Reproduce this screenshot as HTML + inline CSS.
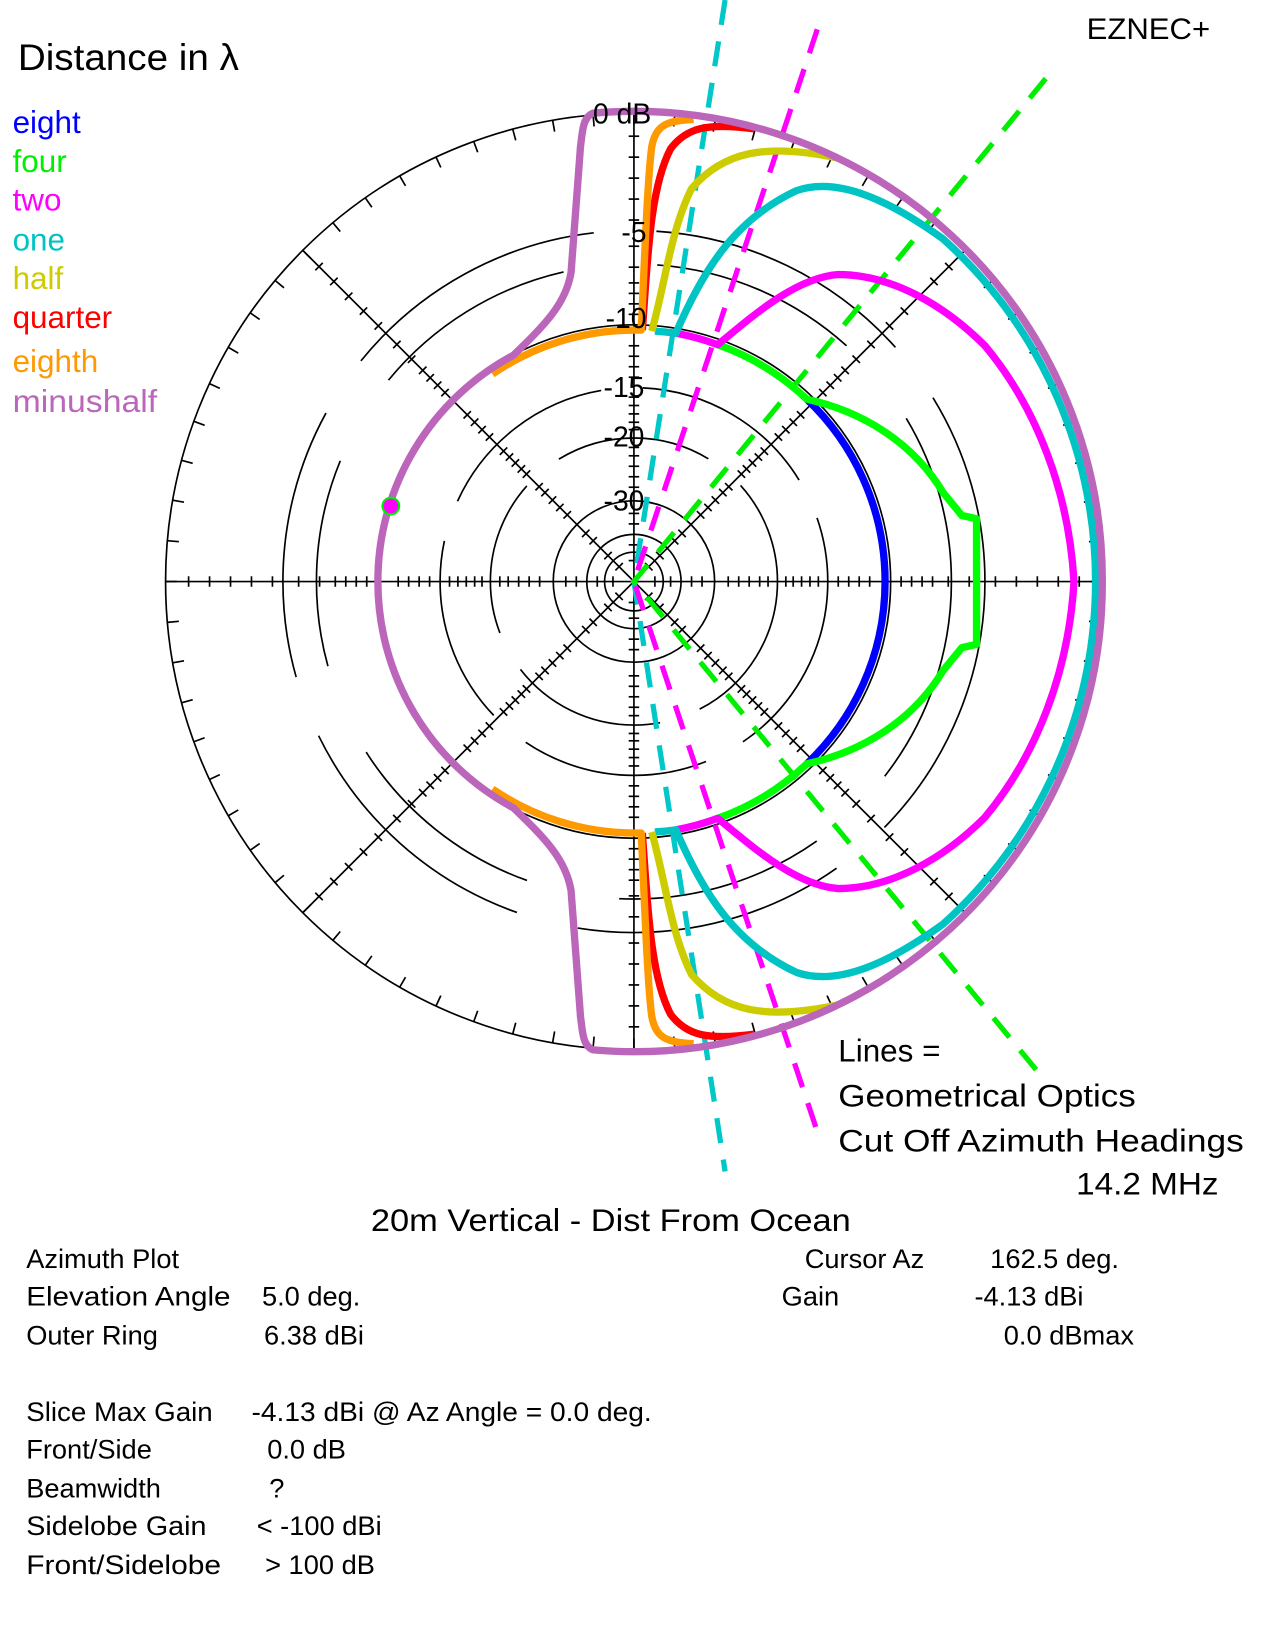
<!DOCTYPE html>
<html><head><meta charset="utf-8">
<style>
html,body{margin:0;padding:0;background:#fff;}
svg{display:block;}
text{font-family:"Liberation Sans","DejaVu Sans",sans-serif;}
</style></head>
<body>
<svg id="s" width="1271" height="1644" viewBox="0 0 1213 1569" xmlns="http://www.w3.org/2000/svg">
<g id="grid" fill="none" stroke="#000" stroke-width="1.6">
  <circle cx="605" cy="555" r="447"/>
  <circle cx="605" cy="555" r="335" stroke-dasharray="260 60"/>
  <circle cx="605" cy="555" r="303" stroke-dasharray="200 90"/>
  <circle cx="605" cy="555" r="245"/>
  <circle cx="605" cy="555" r="185" stroke-dasharray="180 40"/>
  <circle cx="605" cy="555" r="137" stroke-dasharray="150 40"/>
  <circle cx="605" cy="555" r="77"/>
  <circle cx="605" cy="555" r="45"/>
  <circle cx="605" cy="555" r="28"/>
  <line x1="158" y1="555" x2="1052" y2="555"/>
  <line x1="605" y1="108" x2="605" y2="1002"/>
  <line x1="289" y1="239" x2="921" y2="871"/>
  <line x1="289" y1="871" x2="921" y2="239"/>
</g>
<g id="ticks" stroke="#000" stroke-width="1.6"></g>

<g fill="none" stroke-width="5" stroke-dasharray="24 16">
  <path d="M692 0 L605 555 L692 1118" stroke="#00c8c8"/>
  <path d="M780 28 L605 555 L780 1080" stroke="#ff00ff"/>
  <path d="M998 75 L605 555 L998 1032" stroke="#00ee00"/>
</g>

<g fill="none" stroke-width="7" stroke-linejoin="round">
  <path d="M770 381 A240 240 0 0 1 770 729" stroke="#0000ff"/>
  <path d="M685 329 A240 240 0 0 1 770 381 C820 392 870 420 900 470 L918 492 L932 495 L932 615 L918 618 L900 640 C870 690 820 718 770 729 A240 240 0 0 1 685 781" stroke="#00ff00"/>
  <path d="M645 318 A240 240 0 0 1 685 329 C720 300 760 265 800 262 C850 262 900 290 940 330 C990 390 1020 470 1025 555 C1020 640 990 720 940 780 C900 820 850 848 800 848 C760 845 720 810 685 781 A240 240 0 0 1 645 792" stroke="#ff00ff"/>
  <path d="M625 316 A240 240 0 0 1 645 318 C670 260 700 210 760 182 C800 168 850 192 900 228 A440 440 0 0 1 900 882 C850 918 800 942 760 928 C700 900 670 850 645 792 A240 240 0 0 1 625 794" stroke="#00c4c4"/>
  <path d="M622 316 C635 270 640 220 660 180 C690 145 730 136 800 151" stroke="#cccc00"/>
  <path d="M622 794 C635 840 640 890 660 930 C690 965 730 974 800 959" stroke="#cccc00"/>
  <path d="M613 315 C618 250 620 180 640 142 C655 122 675 117 720 123" stroke="#ff0000"/>
  <path d="M613 795 C618 860 620 930 640 968 C655 988 675 993 720 987" stroke="#ff0000"/>
  <path d="M470 357 A240 240 0 0 1 605 315 L612 315 C615 250 618 170 622 140 C626 120 635 115 662 114" stroke="#ff9900"/>
  <path d="M470 753 A240 240 0 0 0 605 795 L612 795 C615 860 618 940 622 970 C626 990 635 995 662 996" stroke="#ff9900"/>
  <path d="M566 108 C556 112 556 125 554 140 L545 260 C540 290 520 310 490 339 A245 245 0 0 0 490 771 C520 800 540 820 545 850 L554 970 C556 985 556 998 566 1002 A447 447 0 0 0 1052 555 A447 447 0 0 0 566 108 Z" stroke="#bb66bb"/>
</g>
<circle cx="373" cy="483" r="8" fill="#ff00ff" stroke="#00ee00" stroke-width="2"/>

<g font-size="27" fill="#000">
  <text x="566" y="118">0 dB</text>
  <text x="593" y="231">-5</text>
  <text x="578" y="313">-10</text>
  <text x="576" y="379">-15</text>
  <text x="576" y="426">-20</text>
  <text x="576" y="487">-30</text>
</g>

<text x="17" y="67" font-size="35" textLength="211" lengthAdjust="spacingAndGlyphs">Distance in λ</text>
<g font-size="30">
  <text x="12" y="127" fill="#0000ff">eight</text>
  <text x="12" y="164" fill="#00ee00">four</text>
  <text x="12" y="201" fill="#ff00ff">two</text>
  <text x="12" y="239" fill="#00c4c4">one</text>
  <text x="12" y="276" fill="#cccc00">half</text>
  <text x="12" y="313" fill="#ff0000">quarter</text>
  <text x="12" y="355" fill="#ff9900">eighth</text>
  <text x="12" y="393" fill="#bb66bb" textLength="138" lengthAdjust="spacingAndGlyphs">minushalf</text>
</g>
<text x="1037" y="37" font-size="28" textLength="118" lengthAdjust="spacingAndGlyphs">EZNEC+</text>

<g font-size="30">
  <text x="800" y="1013">Lines =</text>
  <text x="800" y="1056" textLength="284" lengthAdjust="spacingAndGlyphs">Geometrical Optics</text>
  <text x="800" y="1099" textLength="387" lengthAdjust="spacingAndGlyphs">Cut Off Azimuth Headings</text>
  <text x="1027" y="1140" textLength="136" lengthAdjust="spacingAndGlyphs">14.2 MHz</text>
  <text x="354" y="1175" textLength="458" lengthAdjust="spacingAndGlyphs">20m Vertical - Dist From Ocean</text>
</g>
<g font-size="26">
  <text x="25" y="1210">Azimuth Plot</text>
  <text x="25" y="1246" textLength="195" lengthAdjust="spacingAndGlyphs">Elevation Angle</text><text x="250" y="1246">5.0 deg.</text>
  <text x="25" y="1283">Outer Ring</text><text x="252" y="1283">6.38 dBi</text>
  <text x="768" y="1210">Cursor Az</text><text x="945" y="1210">162.5 deg.</text>
  <text x="746" y="1246">Gain</text><text x="930" y="1246">-4.13 dBi</text>
  <text x="958" y="1283">0.0 dBmax</text>
  <text x="25" y="1356" textLength="178" lengthAdjust="spacingAndGlyphs">Slice Max Gain</text><text x="240" y="1356" textLength="382" lengthAdjust="spacingAndGlyphs">-4.13 dBi @ Az Angle = 0.0 deg.</text>
  <text x="25" y="1392">Front/Side</text><text x="255" y="1392">0.0 dB</text>
  <text x="25" y="1429">Beamwidth</text><text x="257" y="1429">?</text>
  <text x="25" y="1465" textLength="172" lengthAdjust="spacingAndGlyphs">Sidelobe Gain</text><text x="245" y="1465">&lt; -100 dBi</text>
  <text x="25" y="1502" textLength="186" lengthAdjust="spacingAndGlyphs">Front/Sidelobe</text><text x="253" y="1502">&gt; 100 dB</text>
</g>
</svg>
<script>
(function(){
var g=document.getElementById('ticks'),cx=605,cy=555,h='';
function L(a,b,c,d){h+='<line x1="'+a.toFixed(1)+'" y1="'+b.toFixed(1)+'" x2="'+c.toFixed(1)+'" y2="'+d.toFixed(1)+'"/>';}
for(var d=0;d<360;d+=5){var t=d*Math.PI/180,c=Math.cos(t),s=Math.sin(t);L(cx+447*c,cy+447*s,cx+436*c,cy+436*s);}
var rs=[20,35,55,65,90,100,110,120,128,145,152,160,168,176,195,205,215,225,255,265,275,285,300,320,345,365,385,405,425];
for(var k=0;k<8;k++){var a=k*Math.PI/4,c=Math.cos(a),s=Math.sin(a);
 for(var i=0;i<rs.length;i++){var r=rs[i],x=cx+r*c,y=cy+r*s,l=5;L(x-l*s,y+l*c,x+l*s,y-l*c);}}
g.innerHTML=h;
})();
</script>
</body></html>
